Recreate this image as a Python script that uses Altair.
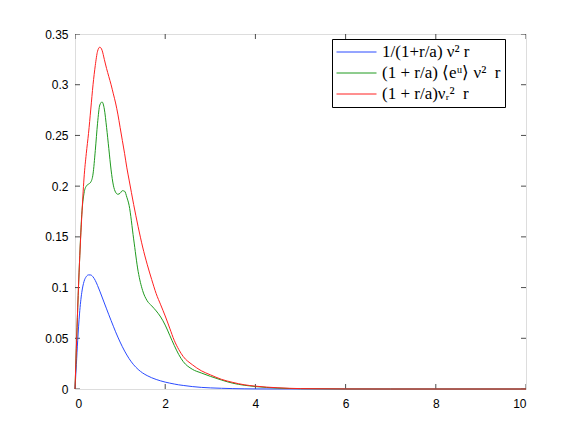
import altair as alt
import pandas as pd

# ---- data ----
x_vals = [0, 0.03, 0.06, 0.1, 0.15, 0.2, 0.25, 0.3, 0.35, 0.4, 0.45, 0.5, 0.55, 0.6, 0.65,
          0.7, 0.75, 0.8, 0.85, 0.9, 0.95, 1.0, 1.05, 1.1, 1.15, 1.2, 1.3, 1.4, 1.5, 1.6,
          1.7, 1.8, 1.9, 2.0, 2.1, 2.2, 2.3, 2.4, 2.6, 2.8, 3.0, 3.25, 3.5, 3.75, 4.0, 4.5,
          5.0, 6.0, 7.0, 8.0, 9.0, 10.0]

blue_vals = [0, 0.024, 0.048, 0.074, 0.095, 0.106, 0.1108, 0.1125, 0.1124, 0.1105, 0.107,
             0.102, 0.0965, 0.0907, 0.0848, 0.079, 0.0732, 0.0675, 0.0619, 0.0564, 0.0512,
             0.0463, 0.0417, 0.0374, 0.0335, 0.0299, 0.0239, 0.0193, 0.0158, 0.0132, 0.0111,
             0.0094, 0.0080, 0.0068, 0.0058, 0.0049, 0.0041, 0.0035, 0.0024, 0.0016, 0.0011,
             0.0007, 0.0004, 0.0002, 0.0001, 0.00004, 0.00001, 0, 0, 0, 0, 0]

green_vals = [0, 0.04, 0.08, 0.125, 0.172, 0.193, 0.200, 0.202, 0.204, 0.212, 0.235, 0.262,
              0.280, 0.283, 0.276, 0.258, 0.237, 0.216, 0.201, 0.194, 0.192, 0.193, 0.1955,
              0.195, 0.189, 0.181, 0.148, 0.116, 0.097, 0.087, 0.082, 0.077, 0.071, 0.063,
              0.053, 0.043, 0.034, 0.027, 0.0195, 0.0158, 0.0125, 0.0088, 0.0057, 0.0037,
              0.0024, 0.0009, 0.0003, 0.00003, 0, 0, 0, 0]

red_vals = [0, 0.04, 0.08, 0.125, 0.17, 0.208, 0.232, 0.252, 0.276, 0.300, 0.319, 0.333,
            0.337, 0.334, 0.325, 0.316, 0.308, 0.300, 0.291, 0.282, 0.271, 0.258, 0.245,
            0.232, 0.218, 0.206, 0.182, 0.160, 0.140, 0.123, 0.108, 0.094, 0.083, 0.072,
            0.060, 0.048, 0.039, 0.032, 0.024, 0.018, 0.014, 0.0095, 0.0065, 0.0042, 0.0028,
            0.0012, 0.0004, 0.00005, 0, 0, 0, 0]

series_labels = ["1/(1+r/a) ν² r",
                 "(1 + r/a) ⟨eᵘ⟩ ν²\u2002r",
                 "(1 + r/a)νᵣ²\u2002r"]
series_colors = ["#2a4bff", "#1f9a1f", "#ff2020"]

x_ticks = [0, 2, 4, 6, 8, 10]
y_ticks = [0, 0.05, 0.1, 0.15, 0.2, 0.25, 0.3, 0.35]

rows = []
for lab, vals in zip(series_labels, [blue_vals, green_vals, red_vals]):
    for xv, yv in zip(x_vals, vals):
        rows.append({"x": xv, "y": yv, "series": lab})
df = pd.DataFrame(rows)

# inward tick marks along the four sides (positions come from the tick lists)
xt_df = pd.DataFrame({"x": x_ticks * 2,
                      "y": [y_ticks[0]] * len(x_ticks) + [y_ticks[-1]] * len(x_ticks)})
yt_df = pd.DataFrame({"x": [x_ticks[0]] * len(y_ticks) + [x_ticks[-1]] * len(y_ticks),
                      "y": y_ticks * 2})

W, H = 451, 355
font = "Liberation Sans"

xscale = alt.Scale(domain=[0, 10], nice=False, zero=False)
yscale = alt.Scale(domain=[0, 0.35], nice=False, zero=False)

x_axis = alt.Axis(orient="bottom", values=x_ticks, ticks=False, domain=False, grid=False,
                  title=None, labelPadding=9, labelFont=font, labelFontSize=12,
                  labelColor="#000", format="d")
y_axis = alt.Axis(orient="left", values=y_ticks, ticks=False, domain=False, grid=False,
                  title=None, labelPadding=7, labelFont=font, labelFontSize=12,
                  labelColor="#000", format=".2~f")

lines = alt.Chart(df).mark_line(interpolate="monotone", strokeWidth=1).encode(
    x=alt.X("x:Q", scale=xscale, axis=x_axis),
    y=alt.Y("y:Q", scale=yscale, axis=y_axis),
    color=alt.Color("series:N",
                    scale=alt.Scale(domain=series_labels, range=series_colors),
                    legend=alt.Legend(orient="none", legendX=257, legendY=5, title=None,
                                      strokeColor="#000", fillColor="#fff", padding=4,
                                      symbolType="stroke", symbolSize=1600,
                                      symbolStrokeWidth=1, labelFont="Liberation Serif",
                                      labelFontSize=17, labelColor="#000", labelLimit=400,
                                      clipHeight=18, rowPadding=3, cornerRadius=0,
                                      labelOffset=5)),
    order=alt.Order("x:Q"),
)

xticks_layer = alt.Chart(xt_df).mark_tick(orient="vertical", size=10, thickness=1,
                                          color="#000", clip=True).encode(
    x=alt.X("x:Q", scale=xscale, axis=x_axis),
    y=alt.Y("y:Q", scale=yscale, axis=y_axis),
)
yticks_layer = alt.Chart(yt_df).mark_tick(orient="horizontal", size=10, thickness=1,
                                          color="#000", clip=True).encode(
    x=alt.X("x:Q", scale=xscale, axis=x_axis),
    y=alt.Y("y:Q", scale=yscale, axis=y_axis),
)

chart = alt.layer(xticks_layer, yticks_layer, lines).properties(
    width=W, height=H,
    autosize=alt.AutoSizeParams(type="none"),
    padding={"left": 67, "top": 26, "right": 40, "bottom": 40},
).configure_view(stroke="#000", strokeWidth=1).configure(background="#fff")

chart.save("out.html", embed_options={"renderer": "svg", "actions": False})
